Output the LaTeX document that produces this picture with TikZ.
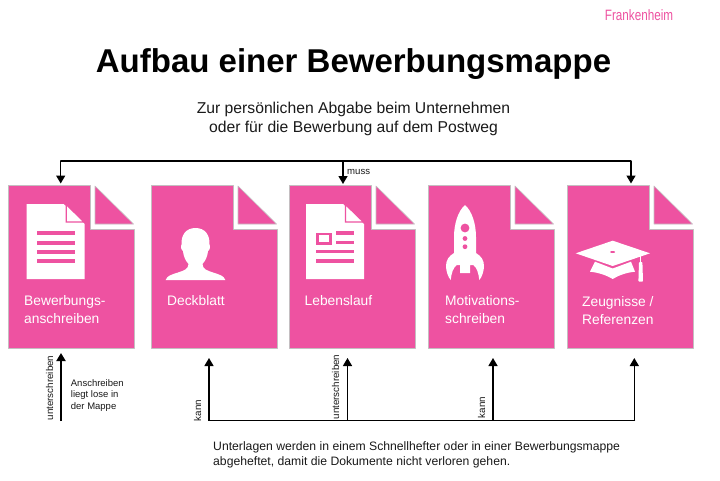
\documentclass[tikz,border=0pt]{standalone}
\usepackage{fontspec}
\setmainfont{Liberation Sans}
\usetikzlibrary{arrows.meta}
\definecolor{pinkc}{HTML}{EE52A1}
\definecolor{edgec}{HTML}{C4BEC1}
\definecolor{inkc}{HTML}{1A1A1A}
\tikzset{
  x=1pt,y=-1pt,
  pagebox/.style={minimum width=126pt,minimum height=163pt,inner sep=0pt,outer sep=0pt,anchor=north west},
  sheet/.style={fill=pinkc,draw=edgec,line width=.6pt,line join=round},
  conn/.style={draw=black,line width=1.4pt,-{Triangle[width=9pt,length=8pt]}},
  plainconn/.style={draw=black,line width=1.4pt},
  pagelabel/.style={anchor=west,inner sep=0pt,text=white,align=left,font=\fontsize{13.8}{17.5}\selectfont},
  vlabel/.style={rotate=90,inner sep=0pt,text=inkc,font=\fontsize{9.8}{11}\selectfont},
  bodytext/.style={anchor=west,inner sep=0pt,align=left,text=inkc},
}
\newcommand{\pagesheet}[2]{%
  \node[pagebox] (#1) at (#2,185) {};
  \begin{scope}[shift={(#2,185)}]
    \path[sheet] (0,0) -- (82,0) -- (82,44) -- (126,44) -- (126,163) -- (0,163) -- cycle;
    \path[sheet] (87,1) -- (125.5,39) -- (87,39) -- cycle;
  \end{scope}}
\newcommand{\docicon}[1]{%
  \begin{scope}[shift={(#1,204)}]
    \fill[white] (0,0) -- (37,0) -- (58,20) -- (58,75) -- (0,75) -- cycle;
    \draw[pinkc,line width=1.3pt,fill=white] (39.5,.5) -- (57.5,18) -- (39.5,18) -- cycle;
  \end{scope}}
\begin{document}
\begin{tikzpicture}
\useasboundingbox (0,0) rectangle (720,480);
\fill[white] (0,0) rectangle (720,480);
\node[inner sep=0pt,text=pinkc] (brand) at (639,15) {\scalebox{.78}[1]{\fontsize{15}{18}\selectfont Frankenheim}};
\node[inner sep=0pt,text=black,font=\fontsize{33}{40}\selectfont\bfseries] (title) at (353.5,64) {Aufbau einer Bewerbungsmappe};
\node[inner sep=0pt,align=center,text=inkc,font=\fontsize{15.7}{19}\selectfont] (sub) at (353.5,119) {Zur persönlichen Abgabe beim Unternehmen\\oder für die Bewerbung auf dem Postweg};

\pagesheet{p1}{8}
\pagesheet{p2}{151}
\pagesheet{p3}{289}
\pagesheet{p4}{428}
\pagesheet{p5}{567}

% icon: letter
\docicon{26.7}
\foreach \yy in {233.3,242.6,251.8,261}
  \fill[pinkc] (36.7,\yy-2) rectangle (74.7,\yy+2);

% icon: person
\fill[white] (165.7,280) .. controls (167,275.5) and (172,274.5) .. (178,272.5)
  .. controls (184,270.5) and (188.5,269) .. (188.5,264)
  .. controls (185,260) and (183.5,256) .. (183,251)
  .. controls (181,250) and (180.5,246) .. (181.5,244.5)
  .. controls (181,235) and (186,228) .. (195.5,228)
  .. controls (205,228) and (210,235) .. (209.5,244.5)
  .. controls (210.5,246) and (210,250) .. (208,251)
  .. controls (207.5,256) and (206,260) .. (202.5,264)
  .. controls (202.5,269) and (207,270.5) .. (213,272.5)
  .. controls (219,274.5) and (224,275.5) .. (225.3,280) -- cycle;

% icon: CV
\docicon{306}
\fill[pinkc] (316,232.7) rectangle (331.7,244.5);
\fill[white] (319,235) rectangle (328.7,242.2);
\fill[pinkc] (336,231.4) rectangle (354,234.6);
\fill[pinkc] (336,240.8) rectangle (354,244);
\fill[pinkc] (316,250) rectangle (354,253.4);
\fill[pinkc] (316,259.4) rectangle (354,262.8);

% icon: rocket
\fill[white] (465,205) .. controls (458,211) and (454,224) .. (454,237)
  -- (454,253) .. controls (449,256) and (446,260) .. (446,266)
  .. controls (446,271) and (448,277) .. (450.7,280)
  .. controls (451.5,273) and (453,268) .. (456.7,265)
  -- (460,265) -- (460,273) -- (470,273) -- (470,265) -- (473.3,265)
  .. controls (477,268) and (478.5,273) .. (479.3,280)
  .. controls (482,277) and (484,271) .. (484,266)
  .. controls (484,260) and (481,256) .. (476,253)
  -- (476,237) .. controls (476,224) and (472,211) .. (465,205) -- cycle;
\fill[pinkc] (465,228) circle[radius=4.4pt];
\fill[pinkc] (465,238.5) circle[radius=2.4pt];
\fill[pinkc] (465,246.7) circle[radius=2.4pt];

% icon: mortarboard
\fill[white] (575.7,253.3) -- (612.7,240.7) -- (650,253.3) -- (612.7,266) -- cycle;
\fill[white] (595,261.7) -- (612.7,268.5) -- (631,261.7) -- (635,271.7)
  .. controls (627,272.5) and (619,275) .. (612.7,279)
  .. controls (606,275) and (598,272.5) .. (590,271.7) -- cycle;
\fill[pinkc] (612.7,252) ellipse[x radius=2.5pt,y radius=1pt];
\fill[white] (640,256) rectangle (641.3,262);
\fill[white,rounded corners=.8pt] (639,262) -- (642.4,262) -- (643,281.7) -- (638.4,281.7) -- cycle;

\node[pagelabel] (l1) at (24,309.5) {Bewerbungs-\\anschreiben};
\node[pagelabel] (l2) at (167,300.7) {Deckblatt};
\node[pagelabel] (l3) at (304.5,300.7) {Lebenslauf};
\node[pagelabel] (l4) at (445,309.5) {Motivations-\\schreiben};
\node[pagelabel] (l5) at (582,310.5) {Zeugnisse /\\Referenzen};

% top connector
\coordinate (a1) at (60.7,183.5);
\coordinate (a3) at (343,184);
\coordinate (a5) at (631,183.5);
\coordinate (busL) at (60.7,161);
\coordinate (busM) at (343,161);
\coordinate (busR) at (631,161);
\draw[conn] (busM) -- (a3);
\draw[conn] (busL) -- (a1);
\draw[conn] (busR) -- (a5);
\draw[plainconn,line join=round,line cap=round] (busL) -- (busR);
\node[anchor=west,inner sep=0pt,text=inkc,font=\fontsize{9.6}{11}\selectfont] (muss) at (347,172) {muss};

% left arrow
\coordinate (u0) at (61,421);
\coordinate (u1) at (61,353);
\draw[conn,line width=2pt] (u0) -- (u1);
\node[vlabel] (un1) at (49.5,388) {unterschreiben};
\node[bodytext,font=\fontsize{9.5}{11.6}\selectfont] (lose) at (70.7,395.5) {Anschreiben\\liegt lose in\\der Mappe};

% bottom connector
\coordinate (bL) at (209,420.7);
\coordinate (bA) at (347.5,420.7);
\coordinate (bB) at (493,420.7);
\coordinate (bR) at (634.3,420.7);
\coordinate (tL) at (209,358);
\coordinate (tA) at (347.5,358);
\coordinate (tB) at (493,358);
\coordinate (tR) at (634.3,358);
\draw[plainconn,line join=round,line cap=round] (bL) -- (bR);
\draw[conn] (bL) -- (tL);
\draw[conn] (bA) -- (tA);
\draw[conn] (bB) -- (tB);
\draw[conn] (bR) -- (tR);
\node[vlabel] (k1) at (197.5,410.5) {kann};
\node[vlabel] (un2) at (335.5,387) {unterschreiben};
\node[vlabel] (k2) at (481.7,407.5) {kann};
\node[bodytext,font=\fontsize{12.2}{15}\selectfont] (note) at (213,454.5) {Unterlagen werden in einem Schnellhefter oder in einer Bewerbungsmappe\\abgeheftet, damit die Dokumente nicht verloren gehen.};
\end{tikzpicture}
\end{document}
